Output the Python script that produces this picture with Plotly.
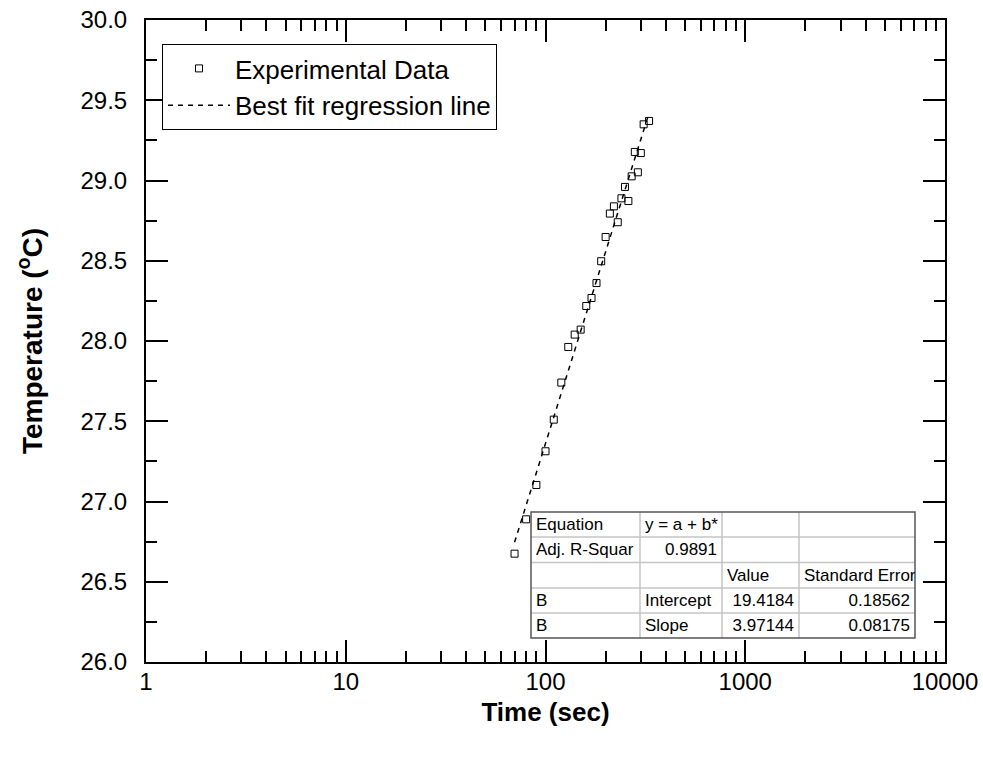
import numpy as np
import plotly.graph_objects as go

# Measured temperature rise vs. time
time_s = [70, 80, 90, 100, 110, 120, 130, 140, 150, 160, 170, 180, 190, 200,
          210, 220, 230, 240, 250, 260, 270, 280, 290, 300, 310, 330]
temp_c = [26.675, 26.889, 27.103, 27.313, 27.510, 27.741, 27.963, 28.040,
          28.071, 28.218, 28.268, 28.361, 28.497, 28.648, 28.794, 28.839,
          28.740, 28.889, 28.960, 28.872, 29.026, 29.178, 29.051, 29.171,
          29.350, 29.371]

# Linear regression of T against log10(t)
intercept = 19.4184
intercept_err = 0.18562
slope = 3.97144
slope_err = 0.08175
adj_r2 = 0.9891

x_tickvals = [1, 10, 100, 1000, 10000]
x_ticktext = ["1", "10", "100", "1000", "10000"]

FONT = "Liberation Sans, Arial, sans-serif"
W, H = 983, 757
L, R, T, B = 146, 945, 20, 662

fit_t = np.geomspace(min(time_s), max(time_s), 50)
fit_T = intercept + slope * np.log10(fit_t)

fig = go.Figure()
fig.add_trace(go.Scatter(
    x=time_s, y=temp_c, mode="markers", name="Experimental Data",
    marker=dict(symbol="square-open", size=7, color="black",
                line=dict(width=1, color="black")),
))
fig.add_trace(go.Scatter(
    x=fit_t, y=fit_T, mode="lines", name="Best fit regression line",
    line=dict(color="black", width=1.5, dash="5px,5px"),
))


def px_x(p):
    return (p - L) / (R - L)


def px_y(p):
    return (B - p) / (B - T)


# Fit results table drawn in the lower right of the plot area
col_edges = [531, 640, 722, 799, 915]
row_edges = [512, 537, 562.5, 588, 613, 638]
cells = [
    ["Equation", "y = a + b*", "", ""],
    ["Adj. R-Squar", f"{adj_r2:.4f}", "", ""],
    ["", "", "Value", "Standard Error"],
    ["B", "Intercept", f"{intercept:.4f}", f"{intercept_err:.5f}"],
    ["B", "Slope", f"{slope:.5f}", f"{slope_err:.5f}"],
]
right_aligned = [
    [False, False, False, False],
    [False, True, False, False],
    [False, False, False, False],
    [False, False, True, True],
    [False, False, True, True],
]

shapes = [dict(type="rect", xref="paper", yref="paper",
               x0=px_x(col_edges[0]), x1=px_x(col_edges[-1]),
               y0=px_y(row_edges[-1]), y1=px_y(row_edges[0]),
               fillcolor="white", line=dict(width=0), layer="above")]
for yy in row_edges[1:-1]:
    shapes.append(dict(type="line", xref="paper", yref="paper",
                       x0=px_x(col_edges[0]), x1=px_x(col_edges[-1]),
                       y0=px_y(yy), y1=px_y(yy),
                       line=dict(color="#c4c4c4", width=1.5), layer="above"))
for xx in col_edges[1:-1]:
    shapes.append(dict(type="line", xref="paper", yref="paper",
                       x0=px_x(xx), x1=px_x(xx),
                       y0=px_y(row_edges[-1]), y1=px_y(row_edges[0]),
                       line=dict(color="#c4c4c4", width=1.5), layer="above"))
shapes.append(dict(type="rect", xref="paper", yref="paper",
                   x0=px_x(col_edges[0]), x1=px_x(col_edges[-1]),
                   y0=px_y(row_edges[-1]), y1=px_y(row_edges[0]),
                   line=dict(color="#555555", width=1.5), layer="above"))

annotations = []
for r, row in enumerate(cells):
    for c, txt in enumerate(row):
        if not txt:
            continue
        left = col_edges[c] + 4
        right = col_edges[c + 1] - 6
        if not right_aligned[r][c]:
            right = col_edges[c + 1] - 1
        annotations.append(dict(
            xref="paper", yref="paper", x=px_x(left),
            y=px_y((row_edges[r] + row_edges[r + 1]) / 2),
            xanchor="left", yanchor="middle", text=txt, showarrow=False,
            width=right - left, align="right" if right_aligned[r][c] else "left",
            borderpad=0, font=dict(family=FONT, size=17, color="black"),
        ))

axis_common = dict(
    showline=True, linecolor="black", linewidth=2, mirror="ticks",
    ticks="inside", ticklen=22, tickwidth=2, tickcolor="black",
    showgrid=False, zeroline=False,
    tickfont=dict(family=FONT, size=24, color="black"),
)

fig.update_layout(
    width=W, height=H,
    margin=dict(l=L, r=W - R, t=T, b=H - B, autoexpand=False),
    paper_bgcolor="white", plot_bgcolor="white",
    font=dict(family=FONT, color="black"),
    xaxis=dict(
        type="log", range=[0, 4], tickmode="array",
        tickvals=x_tickvals, ticktext=x_ticktext,
        minor=dict(ticks="inside", ticklen=11, tickwidth=2,
                   tickcolor="black", dtick="D1", showgrid=False),
        title=dict(text="<b>Time (sec)</b>",
                   font=dict(family=FONT, size=26, color="black"),
                   standoff=9),
        ticklabelstandoff=-3,
        **axis_common,
    ),
    yaxis=dict(
        range=[26, 30], dtick=0.5, tick0=26, tickformat=".1f",
        minor=dict(ticks="inside", ticklen=11, tickwidth=2,
                   tickcolor="black", dtick=0.25, showgrid=False),
        title=dict(text="<b>Temperature (<sup>o</sup>C)</b>",
                   font=dict(family=FONT, size=28, color="black"),
                   standoff=30),
        ticklabelstandoff=12,
        **axis_common,
    ),
    legend=dict(
        x=px_x(162), y=px_y(44), xanchor="left", yanchor="top",
        bordercolor="black", borderwidth=1, bgcolor="white",
        font=dict(family=FONT, size=26, color="black"),
        tracegroupgap=0, itemwidth=62,
    ),
    showlegend=True,
    shapes=shapes,
    annotations=annotations,
)

fig.write_html("out.html")
